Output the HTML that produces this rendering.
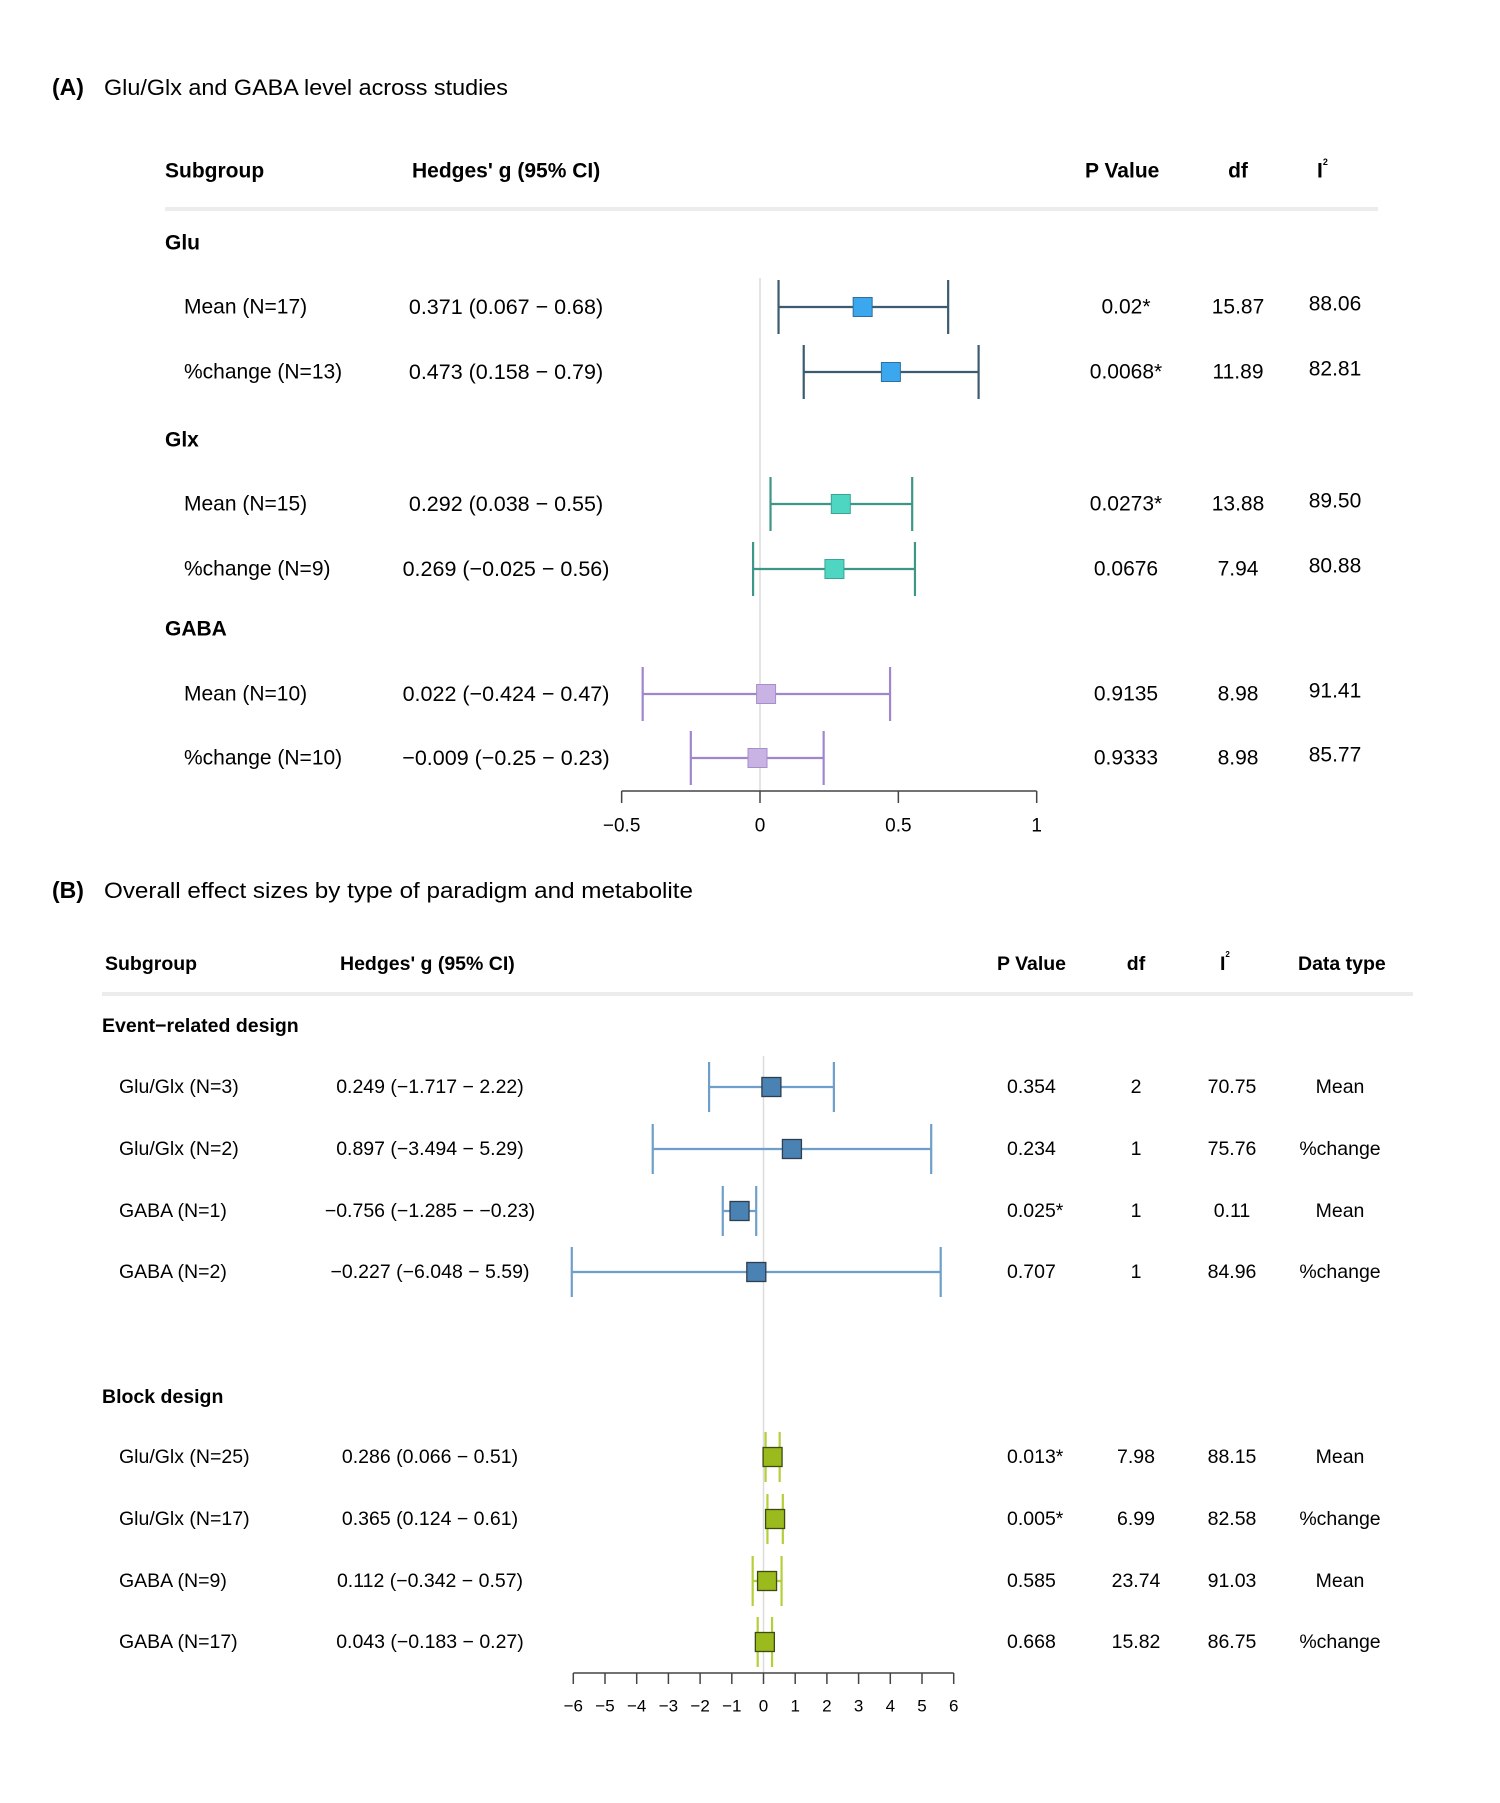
<!DOCTYPE html>
<html><head><meta charset="utf-8"><style>
html,body{margin:0;padding:0;background:#fff;}
svg{display:block;font-family:"Liberation Sans",Arial,sans-serif;}
</style></head><body>
<svg id="fig" width="1500" height="1803" viewBox="0 0 1500 1803" xmlns="http://www.w3.org/2000/svg">
<g id="gA"></g>
<g id="gB"></g>
</svg>
<script>
// ---- Panel A data ----
const aLabels = ["Mean (N=17)","%change (N=13)","Mean (N=15)","%change (N=9)","Mean (N=10)","%change (N=10)"];
const aEst = [0.371,0.473,0.292,0.269,0.022,-0.009];
const aLo = [0.067,0.158,0.038,-0.025,-0.424,-0.25];
const aHi = [0.68,0.79,0.55,0.56,0.47,0.23];
const aCI = ["0.371 (0.067 − 0.68)","0.473 (0.158 − 0.79)","0.292 (0.038 − 0.55)","0.269 (−0.025 − 0.56)","0.022 (−0.424 − 0.47)","−0.009 (−0.25 − 0.23)"];
const aP = ["0.02*","0.0068*","0.0273*","0.0676","0.9135","0.9333"];
const aDf = ["15.87","11.89","13.88","7.94","8.98","8.98"];
const aI2 = ["88.06","82.81","89.50","80.88","91.41","85.77"];
const aGroupOf = [0,0,1,1,2,2];
const aGroups = ["Glu","Glx","GABA"];
const aTicks = [-0.5,0,0.5,1];
const aTickLabels = ["−0.5","0","0.5","1"];
// ---- Panel B data ----
const bLabels = ["Glu/Glx (N=3)","Glu/Glx (N=2)","GABA (N=1)","GABA (N=2)","Glu/Glx (N=25)","Glu/Glx (N=17)","GABA (N=9)","GABA (N=17)"];
const bEst = [0.249,0.897,-0.756,-0.227,0.286,0.365,0.112,0.043];
const bLo = [-1.717,-3.494,-1.285,-6.048,0.066,0.124,-0.342,-0.183];
const bHi = [2.22,5.29,-0.23,5.59,0.51,0.61,0.57,0.27];
const bCI = ["0.249 (−1.717 − 2.22)","0.897 (−3.494 − 5.29)","−0.756 (−1.285 − −0.23)","−0.227 (−6.048 − 5.59)","0.286 (0.066 − 0.51)","0.365 (0.124 − 0.61)","0.112 (−0.342 − 0.57)","0.043 (−0.183 − 0.27)"];
const bP = ["0.354","0.234","0.025*","0.707","0.013*","0.005*","0.585","0.668"];
const bDf = ["2","1","1","1","7.98","6.99","23.74","15.82"];
const bI2 = ["70.75","75.76","0.11","84.96","88.15","82.58","91.03","86.75"];
const bType = ["Mean","%change","Mean","%change","Mean","%change","Mean","%change"];
const bGroupOf = [0,0,0,0,1,1,1,1];
const bGroups = ["Event−related design","Block design"];
const bTicks = [-6,-5,-4,-3,-2,-1,0,1,2,3,4,5,6];
const bTickLabels = ["−6","−5","−4","−3","−2","−1","0","1","2","3","4","5","6"];

const NS="http://www.w3.org/2000/svg";
function mk(parent,tag,attrs,text){const e=document.createElementNS(NS,tag);for(const k in attrs)e.setAttribute(k,attrs[k]);if(text!==undefined)e.textContent=text;parent.appendChild(e);return e;}

// Panel A
const gA=document.getElementById('gA');
const xA=v=>760+v*276.7;
const aRowY=[307,372,440,504,569,629,694,758];
const aRows=[307,372,504,569,694,758];
const aGroupY=[243,440,629];
const aAxisY=791;
const aBox=["#3aa7ee","#3aa7ee","#4fd6c2","#4fd6c2","#c9b3e5","#c9b3e5"];
const aBoxS=["#2f6f99","#2f6f99","#3aa597","#3aa597","#a48fcb","#a48fcb"];
const aLine=["#3c5b70","#3c5b70","#3d9688","#3d9688","#9f86cd","#9f86cd"];
let t;
t=mk(gA,'text',{x:52,y:95,'font-size':23,'font-weight':'bold'},'(A)');

t=mk(gA,'text',{x:104,y:95,'font-size':22,textLength:404,lengthAdjust:'spacingAndGlyphs'},'Glu/Glx and GABA level across studies');

const aHead=[["Subgroup",165,'start'],["Hedges' g (95% CI)",412,'start'],["P Value",1085,'start'],["df",1238,'middle']];
aHead.forEach(h=>{t=mk(gA,'text',{x:h[1],y:171,'font-size':21,'font-weight':'bold','dominant-baseline':'central','text-anchor':h[2]},h[0]);
});
t=mk(gA,'text',{x:1317,y:171,'font-size':21,'font-weight':'bold','dominant-baseline':'central'});

t.innerHTML='I<tspan dy="-9" font-size="9">2</tspan>';
t=mk(gA,'line',{x1:165,x2:1378,y1:209,y2:209,stroke:'#ececec','stroke-width':4});

aGroups.forEach((g,i)=>{t=mk(gA,'text',{x:165,y:aGroupY[i],'font-size':21,'font-weight':'bold','dominant-baseline':'central'},g);
});
t=mk(gA,'line',{x1:xA(0),x2:xA(0),y1:278,y2:aAxisY,stroke:'#dcdcdc','stroke-width':1.5});

aLabels.forEach((l,i)=>{
  const y=aRows[i];
  t=mk(gA,'text',{x:184,y:y,'font-size':21,'dominant-baseline':'central'},l);
  
  t=mk(gA,'text',{x:506,y:y,'font-size':21.5,'dominant-baseline':'central','text-anchor':'middle'},aCI[i]);
  
  t=mk(gA,'text',{x:1126,y:y,'font-size':21,'dominant-baseline':'central','text-anchor':'middle'},aP[i]);
  
  t=mk(gA,'text',{x:1238,y:y,'font-size':21,'dominant-baseline':'central','text-anchor':'middle'},aDf[i]);
  
  t=mk(gA,'text',{x:1335,y:y-3,'font-size':21,'dominant-baseline':'central','text-anchor':'middle'},aI2[i]);
  
  const g=mk(gA,'g',{});
  
  const c=aLine[i];
  mk(g,'line',{x1:xA(aLo[i]),x2:xA(aHi[i]),y1:y,y2:y,stroke:c,'stroke-width':2.2});
  mk(g,'line',{x1:xA(aLo[i]),x2:xA(aLo[i]),y1:y-27,y2:y+27,stroke:c,'stroke-width':2.2});
  mk(g,'line',{x1:xA(aHi[i]),x2:xA(aHi[i]),y1:y-27,y2:y+27,stroke:c,'stroke-width':2.2});
  mk(g,'rect',{x:xA(aEst[i])-9.5,y:y-9.5,width:19,height:19,fill:aBox[i],stroke:aBoxS[i],'stroke-width':1});
});
t=mk(gA,'g',{});
mk(t,'line',{x1:xA(aTicks[0]),x2:xA(aTicks[aTicks.length-1]),y1:aAxisY,y2:aAxisY,stroke:'#444','stroke-width':1.5});
aTicks.forEach((v,i)=>{mk(t,'line',{x1:xA(v),x2:xA(v),y1:aAxisY,y2:aAxisY+12,stroke:'#444','stroke-width':1.5});
 const l=mk(t,'text',{x:xA(v),y:aAxisY+35,'font-size':19,'text-anchor':'middle','dominant-baseline':'central'},aTickLabels[i]);
 });

// Panel B
const gB=document.getElementById('gB');
const xB=v=>763.5+v*31.7;
const bRowY=[1087,1149,1211,1272,1457,1519,1581,1642];
const bGroupY=[1026,1397];
const bAxisY=1673;
t=mk(gB,'text',{x:52,y:898,'font-size':23,'font-weight':'bold'},'(B)');

t=mk(gB,'text',{x:104,y:898,'font-size':22,textLength:589,lengthAdjust:'spacingAndGlyphs'},'Overall effect sizes by type of paradigm and metabolite');

const bHead=[["Subgroup",105,'start'],["Hedges' g (95% CI)",340,'start'],["P Value",997,'start'],["df",1136,'middle'],["Data type",1298,'start']];
bHead.forEach(h=>{t=mk(gB,'text',{x:h[1],y:964,'font-size':19.5,'font-weight':'bold','dominant-baseline':'central','text-anchor':h[2]},h[0]);
});
t=mk(gB,'text',{x:1220,y:964,'font-size':19.5,'font-weight':'bold','dominant-baseline':'central'});

t.innerHTML='I<tspan dy="-10" font-size="8">2</tspan>';
t=mk(gB,'line',{x1:102,x2:1413,y1:994,y2:994,stroke:'#ececec','stroke-width':4});

bGroups.forEach((g,i)=>{t=mk(gB,'text',{x:102,y:bGroupY[i],'font-size':19.5,'font-weight':'bold','dominant-baseline':'central'},g);
});
t=mk(gB,'line',{x1:xB(0),x2:xB(0),y1:1056,y2:bAxisY,stroke:'#dcdcdc','stroke-width':1.5});

bLabels.forEach((l,i)=>{
  const y=bRowY[i];
  t=mk(gB,'text',{x:119,y:y,'font-size':19.5,'dominant-baseline':'central'},l);
  
  t=mk(gB,'text',{x:430,y:y,'font-size':19.5,'dominant-baseline':'central','text-anchor':'middle'},bCI[i]);
  
  t=mk(gB,'text',{x:1007,y:y,'font-size':19.5,'dominant-baseline':'central'},bP[i]);
  
  t=mk(gB,'text',{x:1136,y:y,'font-size':19.5,'dominant-baseline':'central','text-anchor':'middle'},bDf[i]);
  
  t=mk(gB,'text',{x:1232,y:y,'font-size':19.5,'dominant-baseline':'central','text-anchor':'middle'},bI2[i]);
  
  t=mk(gB,'text',{x:1340,y:y,'font-size':19.5,'dominant-baseline':'central','text-anchor':'middle'},bType[i]);
  
  const blk=bGroupOf[i]===1;
  const c=blk?'#b3cf3a':'#6e9fcb', f=blk?'#9aba1e':'#4a82b4', s=blk?'#3d4a10':'#2d3e4e';
  const g=mk(gB,'g',{});
  
  mk(g,'line',{x1:xB(bLo[i]),x2:xB(bHi[i]),y1:y,y2:y,stroke:c,'stroke-width':2.2});
  mk(g,'line',{x1:xB(bLo[i]),x2:xB(bLo[i]),y1:y-25,y2:y+25,stroke:c,'stroke-width':2.2});
  mk(g,'line',{x1:xB(bHi[i]),x2:xB(bHi[i]),y1:y-25,y2:y+25,stroke:c,'stroke-width':2.2});
  mk(g,'rect',{x:xB(bEst[i])-9.5,y:y-9.5,width:19,height:19,fill:f,stroke:s,'stroke-width':1.3});
});
t=mk(gB,'g',{});
mk(t,'line',{x1:xB(bTicks[0]),x2:xB(bTicks[bTicks.length-1]),y1:bAxisY,y2:bAxisY,stroke:'#444','stroke-width':1.5});
bTicks.forEach((v,i)=>{mk(t,'line',{x1:xB(v),x2:xB(v),y1:bAxisY,y2:bAxisY+11,stroke:'#444','stroke-width':1.5});
 const l=mk(t,'text',{x:xB(v),y:bAxisY+33,'font-size':17,'text-anchor':'middle','dominant-baseline':'central'},bTickLabels[i]);
 });
</script>
</body></html>
